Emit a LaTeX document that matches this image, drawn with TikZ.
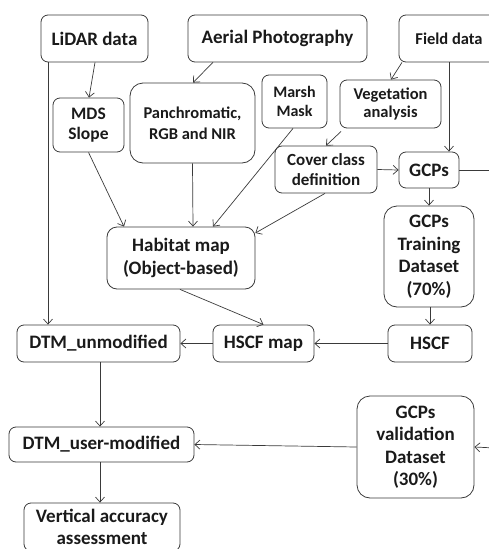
\documentclass[tikz,border=0pt]{standalone}
\usepackage{fontspec}
\setmainfont{Carlito}
\usetikzlibrary{arrows.meta}
\definecolor{edge}{HTML}{3A3A3A}
\definecolor{ink}{HTML}{1A1A1A}
\tikzset{
  box/.style={draw=edge, line width=0.8pt, rounded corners=7pt, inner sep=0pt,
    align=center, text=ink, font=\fontsize{19}{22.5}\selectfont\bfseries},
  bigbox/.style={box, rounded corners=13pt},
  fs/.style 2 args={font=\fontsize{#1}{#2}\selectfont\bfseries},
  arr/.style={draw=edge, line width=0.7pt, -{Straight Barb[length=5pt,width=9pt]}},
  ln/.style={draw=edge, line width=0.7pt}
}
\begin{document}
\begin{tikzpicture}[x=1pt,y=-1pt]
\useasboundingbox (0,0) rectangle (489,549);
\clip (0,0) rectangle (489,549);
\node[box, minimum width=107pt, minimum height=47pt] (lidar) at (94.5,38.5) {LiDAR data};
\node[box, minimum width=179pt, minimum height=47pt] (aerial) at (277.5,38.5) {Aerial Photography};
\node[box, fs={16.5}{20}, minimum width=100pt, minimum height=47pt] (field) at (449,38.5) {Field data};
\node[box, fs={17.5}{19.5}, minimum width=71pt, minimum height=54pt] (mds) at (88.5,125) {MDS\\Slope};
\node[bigbox, fs={16.5}{21}, minimum width=125pt, minimum height=80pt] (pan) at (192.5,123) {Panchromatic,\\RGB and NIR};
\node[box, fs={16}{19}, minimum width=65pt, minimum height=53pt] (marsh) at (294.5,101.5) {Marsh\\Mask};
\node[box, fs={16.5}{18}, minimum width=101pt, minimum height=48pt] (veg) at (390.5,104) {Vegetation\\analysis};
\node[box, fs={17}{20}, minimum width=102pt, minimum height=47pt] (cover) at (326,169.5) {Cover class\\definition};
\node[box, minimum width=60pt, minimum height=36pt] (gcps) at (429,170) {GCPs};
\node[box, rounded corners=10pt, minimum width=148pt, minimum height=62pt] (habitat) at (181,258) {Habitat map\\(Object-based)};
\node[bigbox, minimum width=90pt, minimum height=101pt] (train) at (429,256.5) {GCPs\\Training\\Dataset\\(70\%)};
\node[box, minimum width=84pt, minimum height=37pt] (hscf) at (430,343.5) {HSCF};
\node[box, minimum width=101pt, minimum height=37pt] (hscfmap) at (263.5,343.5) {HSCF map};
\node[box, minimum width=163pt, minimum height=37pt] (dtmu) at (98.5,343.5) {DTM\_unmodified};
\node[box, minimum width=185pt, minimum height=35pt] (dtmum) at (101.5,444.5) {DTM\_user-modified};
\node[box, minimum width=156pt, minimum height=48pt] (vert) at (102,527) {Vertical accuracy\\assessment};
\node[bigbox, minimum width=117pt, minimum height=102pt] (val) at (415.5,447) {GCPs\\validation\\Dataset\\(30\%)};
\coordinate (outgcp) at (495,170);
\coordinate (inval) at (495,448);

\draw[arr] ([xshift=0.5pt]lidar.south) -- ([xshift=0.5pt]mds.north);
\draw[arr] ([xshift=-46.5pt]lidar.south) -- ([xshift=-50.5pt]dtmu.north);
\draw[arr] ([xshift=-64.5pt]aerial.south) -- ([xshift=0.5pt]pan.north);
\draw[arr] ([xshift=-47pt]field.south) -- ([xshift=0.5pt]veg.north);
\draw[arr] (field.south) -- ([xshift=20pt]gcps.north);
\draw[arr] ([shift={(1.5pt,-3pt)}]veg.south west) -- (cover.north);
\draw[arr] (cover.east) -- (gcps.west);
\draw[ln] (gcps.east) -- (outgcp);
\draw[arr] (mds.south) -- ([xshift=-57pt]habitat.north);
\draw[arr] (pan.south) -- ([xshift=12pt]habitat.north);
\draw[arr] ([xshift=-1.5pt]marsh.south) -- ([xshift=32pt]habitat.north);
\draw[arr] ([xshift=-1pt]cover.south) -- ([yshift=25pt]habitat.east);
\draw[arr] (gcps.south) -- (train.north);
\draw[arr] ([xshift=1pt]train.south) -- (hscf.north);
\draw[arr] (hscf.west) -- (hscfmap.east);
\draw[arr] ([xshift=-1pt]habitat.south) -- (hscfmap.north);
\draw[arr] (hscfmap.west) -- (dtmu.east);
\draw[arr] ([xshift=1.5pt]dtmu.south) -- ([xshift=-1.5pt]dtmum.north);
\draw[arr] ([xshift=-1.5pt]dtmum.south) -- ([xshift=-2pt]vert.north);
\draw[arr] (val.west) -- (dtmum.east);
\draw[arr] (inval) -- (val.east);
\end{tikzpicture}
\end{document}
